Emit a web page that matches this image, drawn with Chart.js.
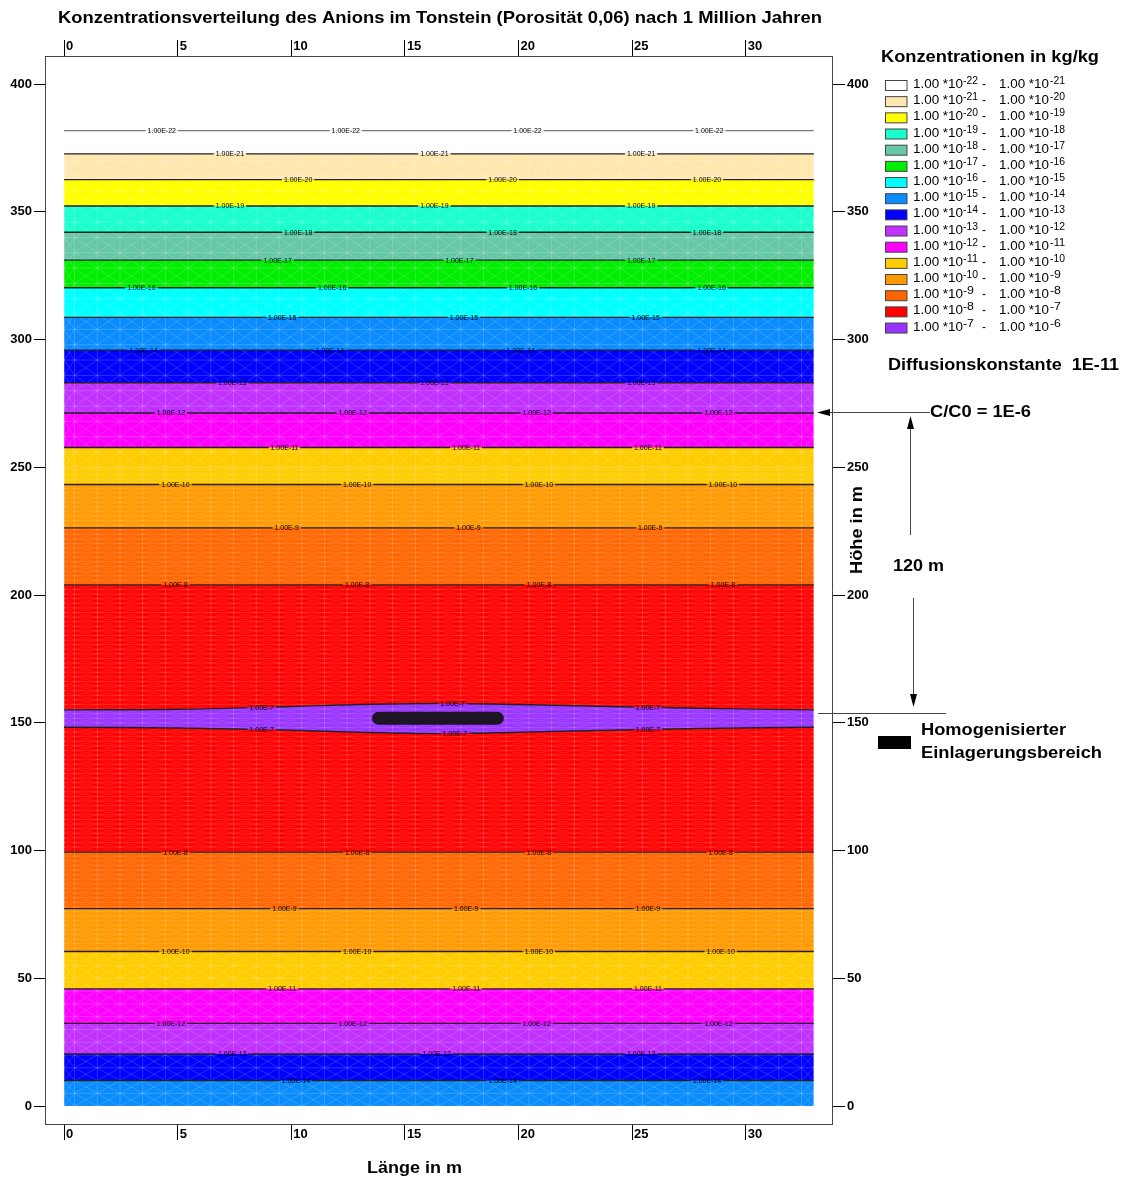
<!DOCTYPE html>
<html>
<head>
<meta charset="utf-8">
<script src="https://cdn.jsdelivr.net/npm/chart.js@4.4.1/dist/chart.umd.min.js"></script>
<style>
  html, body { margin: 0; padding: 0; background: #fff; }
  #wrap { width: 1127px; height: 1180px; position: relative; }
</style>
</head>
<body>
<div id="wrap"><canvas id="chart"></canvas></div>
<script>
// Isolinien von unten nach oben: Exponent, Höhe in m (null = gekrümmte Linie um den Einlagerungsbereich)
const lineExp = [-14, -13, -12, -11, -10, -9, -8, -7, -7, -8, -9, -10, -11, -12, -13, -14, -15, -16, -17, -18, -19, -20, -21, -22];
const lineHeight = [10.0, 20.4, 32.4, 45.9, 60.5, 77.3, 99.4, null, null, 204.0, 226.3, 243.3, 257.8, 271.3, 283.1, 295.9, 308.7, 320.3, 331.1, 342.0, 352.3, 362.6, 372.7, 381.8];
// Konzentrationsklasse (unterer Exponent) der Fläche unterhalb jeder Linie
const bandExp = [-15, -14, -13, -12, -11, -10, -9, -8, -7, -8, -9, -10, -11, -12, -13, -14, -15, -16, -17, -18, -19, -20, -21, -22];

// 1E-7 Linien um den Einlagerungsbereich
const lensX = [0, 5, 10, 13, 16.5, 20, 23, 28, 33];
const lensLower = [148.3, 148.0, 147.1, 146.3, 145.8, 146.3, 146.9, 147.8, 148.3];
const lensUpper = [155.1, 155.3, 156.4, 157.2, 157.6, 157.2, 156.6, 155.7, 155.1];

// homogenisierter Einlagerungsbereich
const storeX = [13.84, 19.07];
const storeY = [151.8, 151.8];

// Lage der Beschriftungen auf den Isolinien (x in m)
const labelX = [
  [10.2, 19.3, 28.3], [7.4, 16.4, 25.4], [4.7, 12.7, 20.8, 28.8], [9.6, 17.7, 25.7],
  [4.9, 12.9, 20.9, 28.9], [9.7, 17.7, 25.7], [4.9, 12.9, 20.9, 28.9], [8.7, 17.2, 25.7],
  [8.7, 17.1, 25.7], [4.9, 12.9, 20.9, 29.0], [9.8, 17.8, 25.8], [4.9, 12.9, 20.9, 29.0],
  [9.7, 17.7, 25.7], [4.7, 12.7, 20.8, 28.8], [7.4, 16.3, 25.4], [3.5, 11.7, 20.1, 28.5],
  [9.6, 17.6, 25.6], [3.4, 11.8, 20.2, 28.5], [9.4, 17.4, 25.4], [10.3, 19.3, 28.3],
  [7.3, 16.3, 25.4], [10.3, 19.3, 28.3], [7.3, 16.3, 25.4], [4.3, 12.4, 20.4, 28.4]
];

// Legende: Exponenten -22 ... -6 und Farben der Klassen
const legendExp = ['-22', '-21', '-20', '-19', '-18', '-17', '-16', '-15', '-14', '-13', '-12', '-11', '-10', '-9', '-8', '-7', '-6'];
const legendColors = ['#ffffff', '#ffe8b0', '#ffff00', '#1affcc', '#66c8a8', '#00ee00', '#00ffff', '#0a8cff',
                      '#0000ff', '#c030ff', '#ff00ff', '#ffcc00', '#ff9900', '#ff6600', '#ff0000', '#9933ff'];

const FONT = "'Liberation Sans', Arial, sans-serif";

function classColor(exp) {
  return legendColors[exp + 22];
}

function lineY(i, x) {
  if (lineHeight[i] !== null) return lineHeight[i];
  const ys = i === 7 ? lensLower : lensUpper;
  for (let k = 1; k < lensX.length; k++) {
    if (x <= lensX[k]) {
      const t = (x - lensX[k - 1]) / (lensX[k] - lensX[k - 1]);
      return ys[k - 1] + t * (ys[k] - ys[k - 1]);
    }
  }
  return ys[ys.length - 1];
}

const datasets = lineHeight.map((h, i) => ({
  data: h === null
    ? lensX.map((x, k) => ({x, y: (i === 7 ? lensLower : lensUpper)[k]}))
    : [{x: 0, y: h}, {x: 33, y: h}],
  borderColor: i === lineHeight.length - 1 ? '#777' : '#222',
  borderWidth: 1.4,
  pointRadius: 0,
  tension: h === null ? 0.35 : 0,
  backgroundColor: classColor(bandExp[i]),
  fill: i === 0 ? {value: 0} : (i === lineHeight.length - 1 ? false : '-1')
}));

datasets.push({
  data: storeX.map((x, k) => ({x, y: storeY[k]})),
  borderColor: '#1d1426',
  borderWidth: 13,
  borderCapStyle: 'round',
  pointRadius: 0,
  fill: false
});

function fitText(ctx, text, x, y, width, font) {
  ctx.font = font;
  const s = width / ctx.measureText(text).width;
  ctx.save();
  ctx.translate(x, y);
  ctx.scale(s, 1);
  ctx.textAlign = 'left';
  ctx.textBaseline = 'middle';
  ctx.fillText(text, 0, 0);
  ctx.restore();
}

function arrowHead(ctx, tx, ty, dx, dy) {
  // dx, dy: Richtung der Spitze
  const len = 13, half = 3.5;
  const bx = tx - dx * len, by = ty - dy * len;
  ctx.beginPath();
  ctx.moveTo(tx, ty);
  ctx.lineTo(bx - dy * half, by + dx * half);
  ctx.lineTo(bx + dy * half, by - dx * half);
  ctx.closePath();
  ctx.fill();
}

const meshPlugin = {
  id: 'mesh',
  beforeDatasetsDraw(chart) {
    const {ctx, scales: {x, y}} = chart;
    const left = x.getPixelForValue(0), right = x.getPixelForValue(33);
    const top = y.getPixelForValue(372.7), bottom = y.getPixelForValue(0);
    ctx.save();
    ctx.beginPath();
    ctx.rect(left, top, right - left, bottom - top);
    ctx.clip();
    ctx.lineWidth = 0.6;

    const cols = [0];
    for (let k = 1; k <= 33; k++) cols.push(k - 0.54);
    cols.push(33);

    const rows = [];
    for (let v = 0; v < 60; v += 5) rows.push([v, v + 5, 'coarse']);
    for (let v = 60; v < 250; v += 1.8) rows.push([v, v + 1.8, 'dense']);
    for (let v = 250; v < 375; v += 6) rows.push([v, v + 6, 'coarse']);

    rows.forEach(([y0, y1, kind]) => {
      const p0 = y.getPixelForValue(y0), p1 = y.getPixelForValue(y1);
      ctx.strokeStyle = kind === 'dense' ? 'rgba(255,255,255,0.22)' : 'rgba(255,255,255,0.3)';
      ctx.beginPath();
      ctx.moveTo(left, p0); ctx.lineTo(right, p0);
      ctx.stroke();
      ctx.strokeStyle = kind === 'dense' ? 'rgba(255,255,255,0.12)' : 'rgba(255,255,255,0.28)';
      ctx.beginPath();
      for (let c = 1; c < cols.length; c++) {
        const a = x.getPixelForValue(cols[c - 1]), b = x.getPixelForValue(cols[c]);
        ctx.moveTo(a, p0); ctx.lineTo(b, p1);
        ctx.moveTo(a, p1); ctx.lineTo(b, p0);
      }
      ctx.stroke();
    });

    ctx.strokeStyle = 'rgba(255,255,255,0.3)';
    ctx.beginPath();
    cols.forEach(c => {
      const px = x.getPixelForValue(c);
      ctx.moveTo(px, top); ctx.lineTo(px, bottom);
    });
    ctx.stroke();
    ctx.restore();
  }
};

const labelPlugin = {
  id: 'contourLabels',
  afterDatasetsDraw(chart) {
    const {ctx, scales: {x, y}} = chart;
    ctx.save();
    ctx.font = `7px ${FONT}`;
    ctx.textAlign = 'center';
    ctx.textBaseline = 'middle';
    labelX.forEach((xs, i) => {
      const text = '1.00E' + lineExp[i];
      const w = ctx.measureText(text).width + 4;
      const below = classColor(bandExp[i]);
      const above = i + 1 < bandExp.length ? classColor(bandExp[i + 1]) : '#ffffff';
      xs.forEach(lx => {
        const px = x.getPixelForValue(lx);
        const py = y.getPixelForValue(lineY(i, lx));
        ctx.fillStyle = above;
        ctx.fillRect(px - w / 2, py - 2, w, 2);
        ctx.fillStyle = below;
        ctx.fillRect(px - w / 2, py, w, 2);
        ctx.fillStyle = '#000';
        ctx.fillText(text, px, py + 0.5);
      });
    });
    ctx.restore();
  }
};

const annotationPlugin = {
  id: 'annotations',
  afterDraw(chart) {
    const {ctx, scales: {y}} = chart;
    ctx.save();
    ctx.fillStyle = '#000';
    ctx.strokeStyle = '#000';

    fitText(ctx, 'Konzentrationsverteilung des Anions im Tonstein (Porosität 0,06) nach 1 Million Jahren',
            58, 18, 764, `bold 17px ${FONT}`);
    fitText(ctx, 'Länge in m', 367, 1168, 95, `bold 17px ${FONT}`);

    ctx.save();
    ctx.translate(858, 574);
    ctx.rotate(-Math.PI / 2);
    fitText(ctx, 'Höhe in m', 0, 0, 88, `bold 16px ${FONT}`);
    ctx.restore();

    // Legende
    fitText(ctx, 'Konzentrationen in kg/kg', 881, 58, 218, `bold 16px ${FONT}`);
    legendColors.forEach((c, i) => {
      const yc = 85.5 + i * 16.17;
      ctx.fillStyle = c;
      ctx.fillRect(885.5, yc - 5, 21.5, 10);
      ctx.strokeStyle = '#444';
      ctx.lineWidth = 1;
      ctx.strokeRect(885.5, yc - 5, 21.5, 10);
      ctx.fillStyle = '#000';
      fitText(ctx, '1.00 *10', 913, yc - 1, 50, `13px ${FONT}`);
      fitText(ctx, legendExp[i], 963, yc - 4.5, legendExp[i].length > 2 ? 15 : 11, `11px ${FONT}`);
      fitText(ctx, '-', 982, yc - 1, 4, `13px ${FONT}`);
      fitText(ctx, '1.00 *10', 999, yc - 1, 50, `13px ${FONT}`);
      fitText(ctx, legendExp[i + 1], 1050, yc - 4.5, legendExp[i + 1].length > 2 ? 15 : 11, `11px ${FONT}`);
    });

    fitText(ctx, 'Diffusionskonstante  1E-11', 888, 366, 231, `bold 16px ${FONT}`);

    // C/C0 = 1E-6 bei 271 m
    const yc0 = Math.round(y.getPixelForValue(271.3)) - 0.5;
    ctx.lineWidth = 1;
    ctx.beginPath();
    ctx.moveTo(930, yc0); ctx.lineTo(825, yc0);
    ctx.stroke();
    arrowHead(ctx, 817, yc0, -1, 0);
    fitText(ctx, 'C/C0 = 1E-6', 930, yc0, 101, `bold 16px ${FONT}`);

    // 120 m Abstand
    ctx.beginPath();
    ctx.moveTo(910.5, 535); ctx.lineTo(910.5, 424);
    ctx.moveTo(913.5, 598); ctx.lineTo(913.5, 699);
    ctx.stroke();
    arrowHead(ctx, 910.5, 416, 0, -1);
    arrowHead(ctx, 913.5, 707, 0, 1);
    fitText(ctx, '120 m', 893, 567, 51, `bold 16px ${FONT}`);

    const ys = Math.round(y.getPixelForValue(153.8)) + 0.5;
    ctx.beginPath();
    ctx.moveTo(818, ys); ctx.lineTo(946, ys);
    ctx.stroke();

    ctx.fillRect(878, 736, 33, 13);
    fitText(ctx, 'Homogenisierter', 921, 731, 145, `bold 16px ${FONT}`);
    fitText(ctx, 'Einlagerungsbereich', 921, 754, 181, `bold 16px ${FONT}`);
    ctx.restore();
  }
};

const tickFont = {family: FONT, size: 13, weight: 'bold'};

function axis(position, extra) {
  return Object.assign({
    type: 'linear',
    position,
    grid: {display: true, drawOnChartArea: false, drawTicks: true, color: '#000', tickColor: '#000'},
    border: {display: true, color: '#444', width: 1}
  }, extra);
}

new Chart(document.getElementById('chart'), {
  type: 'line',
  data: {datasets},
  options: {
    responsive: true,
    maintainAspectRatio: false,
    animation: false,
    events: [],
    layout: {padding: 0},
    plugins: {
      legend: {display: false},
      tooltip: {enabled: false},
      filler: {drawTime: 'beforeDatasetsDraw'}
    },
    scales: {
      x: axis('bottom', {
        min: -0.84, max: 33.8,
        grid: {display: true, drawOnChartArea: false, color: '#000', tickColor: '#000', tickLength: 16},
        ticks: {stepSize: 5, includeBounds: false, align: 'start', labelOffset: 2, padding: -13, color: '#000', font: tickFont, maxRotation: 0},
        afterFit: s => { s.height = 56; }
      }),
      x2: axis('top', {
        min: -0.84, max: 33.8,
        grid: {display: true, drawOnChartArea: false, color: '#000', tickColor: '#000', tickLength: 16},
        ticks: {stepSize: 5, includeBounds: false, align: 'start', labelOffset: 2, padding: -14, color: '#000', font: tickFont, maxRotation: 0},
        afterFit: s => { s.height = 56; }
      }),
      y: axis('left', {
        min: -7, max: 411,
        grid: {display: true, drawOnChartArea: false, color: '#000', tickColor: '#000', tickLength: 11},
        ticks: {stepSize: 50, includeBounds: false, padding: 2, color: '#000', font: tickFont},
        afterFit: s => { s.width = 45; }
      }),
      y2: axis('right', {
        min: -7, max: 411,
        grid: {display: true, drawOnChartArea: false, color: '#000', tickColor: '#000', tickLength: 13},
        ticks: {stepSize: 50, includeBounds: false, padding: 2, color: '#000', font: tickFont},
        afterFit: s => { s.width = 295; }
      })
    }
  },
  plugins: [meshPlugin, labelPlugin, annotationPlugin]
});
</script>
</body>
</html>
